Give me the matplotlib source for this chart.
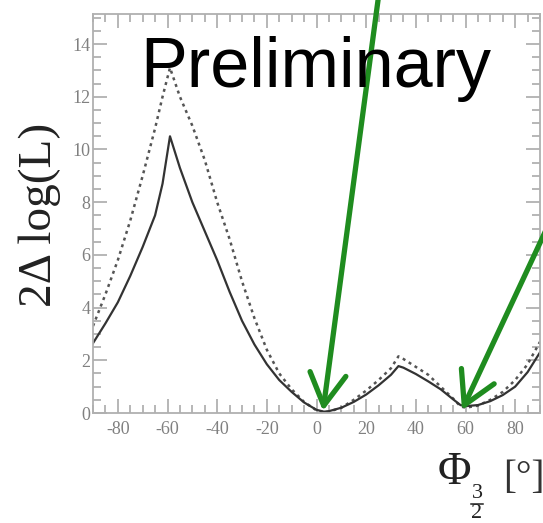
import numpy as np
import matplotlib.pyplot as plt
from matplotlib.ticker import MultipleLocator

# scan of the likelihood along the phase angle
phi = [-90, -85, -80, -75, -70, -65, -62, -59, -55, -50, -45, -40, -35, -30,
       -25, -20, -15, -10, -5, 0, 3, 5, 10, 15, 20, 25, 30, 33, 35, 40, 45,
       50, 55, 58, 60, 65, 70, 75, 80, 85, 90]
dll_solid = [2.65, 3.4, 4.2, 5.2, 6.3, 7.5, 8.7, 10.5, 9.3, 8.0, 6.9, 5.8,
             4.6, 3.5, 2.6, 1.85, 1.25, 0.8, 0.4, 0.12, 0.05, 0.07, 0.2, 0.42,
             0.7, 1.05, 1.45, 1.78, 1.72, 1.48, 1.2, 0.9, 0.52, 0.3, 0.26,
             0.3, 0.45, 0.68, 1.0, 1.55, 2.3]
dll_dotted = [3.3, 4.5, 5.8, 7.3, 9.0, 10.8, 12.0, 13.1, 12.0, 10.9, 9.6,
              8.0, 6.6, 5.0, 3.6, 2.4, 1.5, 0.9, 0.42, 0.1, 0.03, 0.05, 0.2,
              0.5, 0.85, 1.25, 1.7, 2.15, 2.05, 1.75, 1.45, 1.0, 0.55, 0.25,
              0.2, 0.28, 0.5, 0.8, 1.25, 1.85, 2.7]

# arrows: (tail, tip) in figure pixels
arrows = [((381, 545), (323, 112)),
          ((560, 323), (462, 113))]

plt.rcParams['axes.unicode_minus'] = False

W, H = 543, 523
fig = plt.figure(figsize=(W / 100, H / 100), dpi=100)
ax = fig.add_axes([93 / W, 1 - 413 / H, (540 - 93) / W, (413 - 14) / H])

ax.plot(phi, dll_dotted, color="#555555", lw=1.8, ls=(0, (1.2, 1.6)))
ax.plot(phi, dll_solid, color="#333333", lw=1.6)

ax.set_xlim(-90, 90)
ax.set_ylim(0, 15.14)
ax.xaxis.set_major_locator(MultipleLocator(20))
ax.xaxis.set_minor_locator(MultipleLocator(5))
ax.yaxis.set_major_locator(MultipleLocator(2))
ax.yaxis.set_minor_locator(MultipleLocator(0.5))
ax.tick_params(which="both", direction="in", top=True, right=True,
               color="#aaaaaa", width=1.2, labelcolor="#808080",
               labelsize=13)
ax.tick_params(which="major", length=10)
ax.tick_params(which="minor", length=5.5)
ax.tick_params(axis="x", pad=6)
ax.tick_params(axis="y", pad=2)
for lab in ax.get_xticklabels() + ax.get_yticklabels():
    lab.set_family("Liberation Serif")
for sp in ax.spines.values():
    sp.set_color("#b0b0b0")
    sp.set_linewidth(1.3)

serif = "Liberation Serif"
fig.text(40 / W, 1 - 215 / H, "2\u0394 log(L)", rotation=90, family=serif,
         fontsize=34, color="#222222", ha="center", va="center")

# axis title Phi_{3/2} [deg], built from pieces so the fraction stays large
fig.text(438 / W, 1 - 484 / H, "\u03a6", family=serif, fontsize=33,
         color="#222222", ha="left", va="baseline")
fig.text(477 / W, 1 - 494 / H, "3", family=serif, fontsize=16,
         color="#222222", ha="center", va="center")
fig.add_artist(plt.Line2D([471 / W, 483 / W], [1 - 504 / H, 1 - 504 / H],
                          color="#222222", lw=1.1))
fig.text(477 / W, 1 - 513 / H, "2", family=serif, fontsize=16,
         color="#222222", ha="center", va="center")
fig.text(503 / W, 1 - 488 / H, "[°]", family=serif, fontsize=28,
         color="#333333", ha="left", va="baseline")

fig.text(140 / W, 1 - 87 / H, "Preliminary", family="Liberation Sans",
         fontsize=50.5, color="black", ha="left", va="baseline")

for tail, tip in arrows:
    ax.annotate("", xy=tip, xytext=tail, xycoords="figure pixels",
                textcoords="figure pixels", annotation_clip=False,
                arrowprops=dict(arrowstyle="->,head_length=2.3,head_width=1.3",
                                mutation_scale=10, lw=3.8, color="#1f8c1f",
                                shrinkA=0, shrinkB=0))

fig.savefig("out.png", dpi=100)
